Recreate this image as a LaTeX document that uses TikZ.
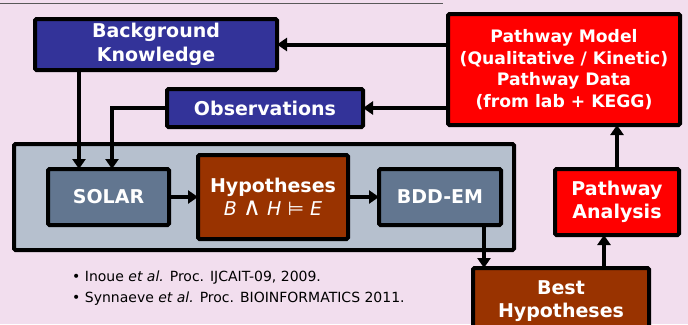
\documentclass[tikz,border=0pt]{standalone}
\usepackage{fontspec}
\setmainfont{DejaVu Sans}
\usetikzlibrary{arrows.meta}
\definecolor{bgpink}{RGB}{242,222,238}
\definecolor{kblue}{RGB}{51,51,153}
\definecolor{kred}{RGB}{255,0,0}
\definecolor{kbrown}{RGB}{153,51,0}
\definecolor{kgray}{RGB}{182,192,206}
\definecolor{kslate}{RGB}{98,118,144}
\begin{document}
\begin{tikzpicture}[x=1pt,y=-1pt,
  box/.style={draw=black,line width=4pt,rounded corners=1.5pt,text=white,align=center,
    font=\bfseries\fontsize{19}{23.5}\selectfont,inner sep=0pt,outer sep=0pt},
  arr/.style={line width=4pt,-{Triangle[length=10pt,width=13pt]}},
  ln/.style={line width=4pt}]
\clip (0,0) rectangle (688,324);
\fill[bgpink] (0,0) rectangle (688,324);
\draw[line width=1pt,black!65] (0,3) -- (443,3);
% container
\node[box,fill=kgray,minimum width=500,minimum height=106] (cont) at (264,197) {};
\node[box,fill=kblue,minimum width=242,minimum height=51] (bk) at (156,44.5) {Background\\Knowledge};
\node[box,fill=kblue,minimum width=196,minimum height=38] (obs) at (265,108) {Observations};
\node[box,fill=kred,minimum width=232,minimum height=111,font=\bfseries\fontsize{17.2}{21.8}\selectfont] (pm) at (564,69.5) {Pathway Model\\(Qualitative / Kinetic)\\Pathway Data\\(from lab + KEGG)};
\node[box,fill=kslate,minimum width=121,minimum height=56] (solar) at (108.5,197) {SOLAR};
\node[box,fill=kbrown,minimum width=150,minimum height=84] (hyp) at (273,197) {Hypotheses\\{\mdseries\itshape B\/ \upshape{\fontsize{25}{23.5}\selectfont∧} \itshape H\/ \upshape⊨ \itshape E}};
\node[box,fill=kslate,minimum width=122,minimum height=56] (bdd) at (440,197) {BDD-EM};
\node[box,fill=kbrown,minimum width=176,minimum height=66,anchor=north] (best) at (561,268) {Best\\Hypotheses};
\node[box,fill=kred,minimum width=124,minimum height=66] (pa) at (617,202) {Pathway\\Analysis};
% connectors
\draw[arr] (pm.west |- bk.east) -- (bk.east);
\draw[arr] (pm.west |- obs.east) -- (obs.east);
\draw[arr] ([xshift=-29.5]solar.north |- bk.south) -- ([xshift=-29.5]solar.north);
\draw[arr] (obs.west) -| ([xshift=3.5]solar.north);
\draw[arr] (solar.east) -- (hyp.west);
\draw[arr] (hyp.east) -- (bdd.west);
\draw[arr] ([xshift=44]bdd.south) -- ([xshift=44]bdd.south |- best.north);
\draw[arr] ([xshift=43]best.north) -- ([xshift=43]best.north |- pa.south);
\draw[arr] (pa.north) -- (pa.north |- pm.south);
% references
\node[anchor=west,align=left,inner sep=0pt,font=\fontsize{14}{21}\selectfont] (refs) at (72,288.5)
  {• Inoue \textit{et al.} Proc. IJCAIT-09, 2009.\\• Synnaeve \textit{et al.} Proc. BIOINFORMATICS 2011.};
\end{tikzpicture}
\end{document}
